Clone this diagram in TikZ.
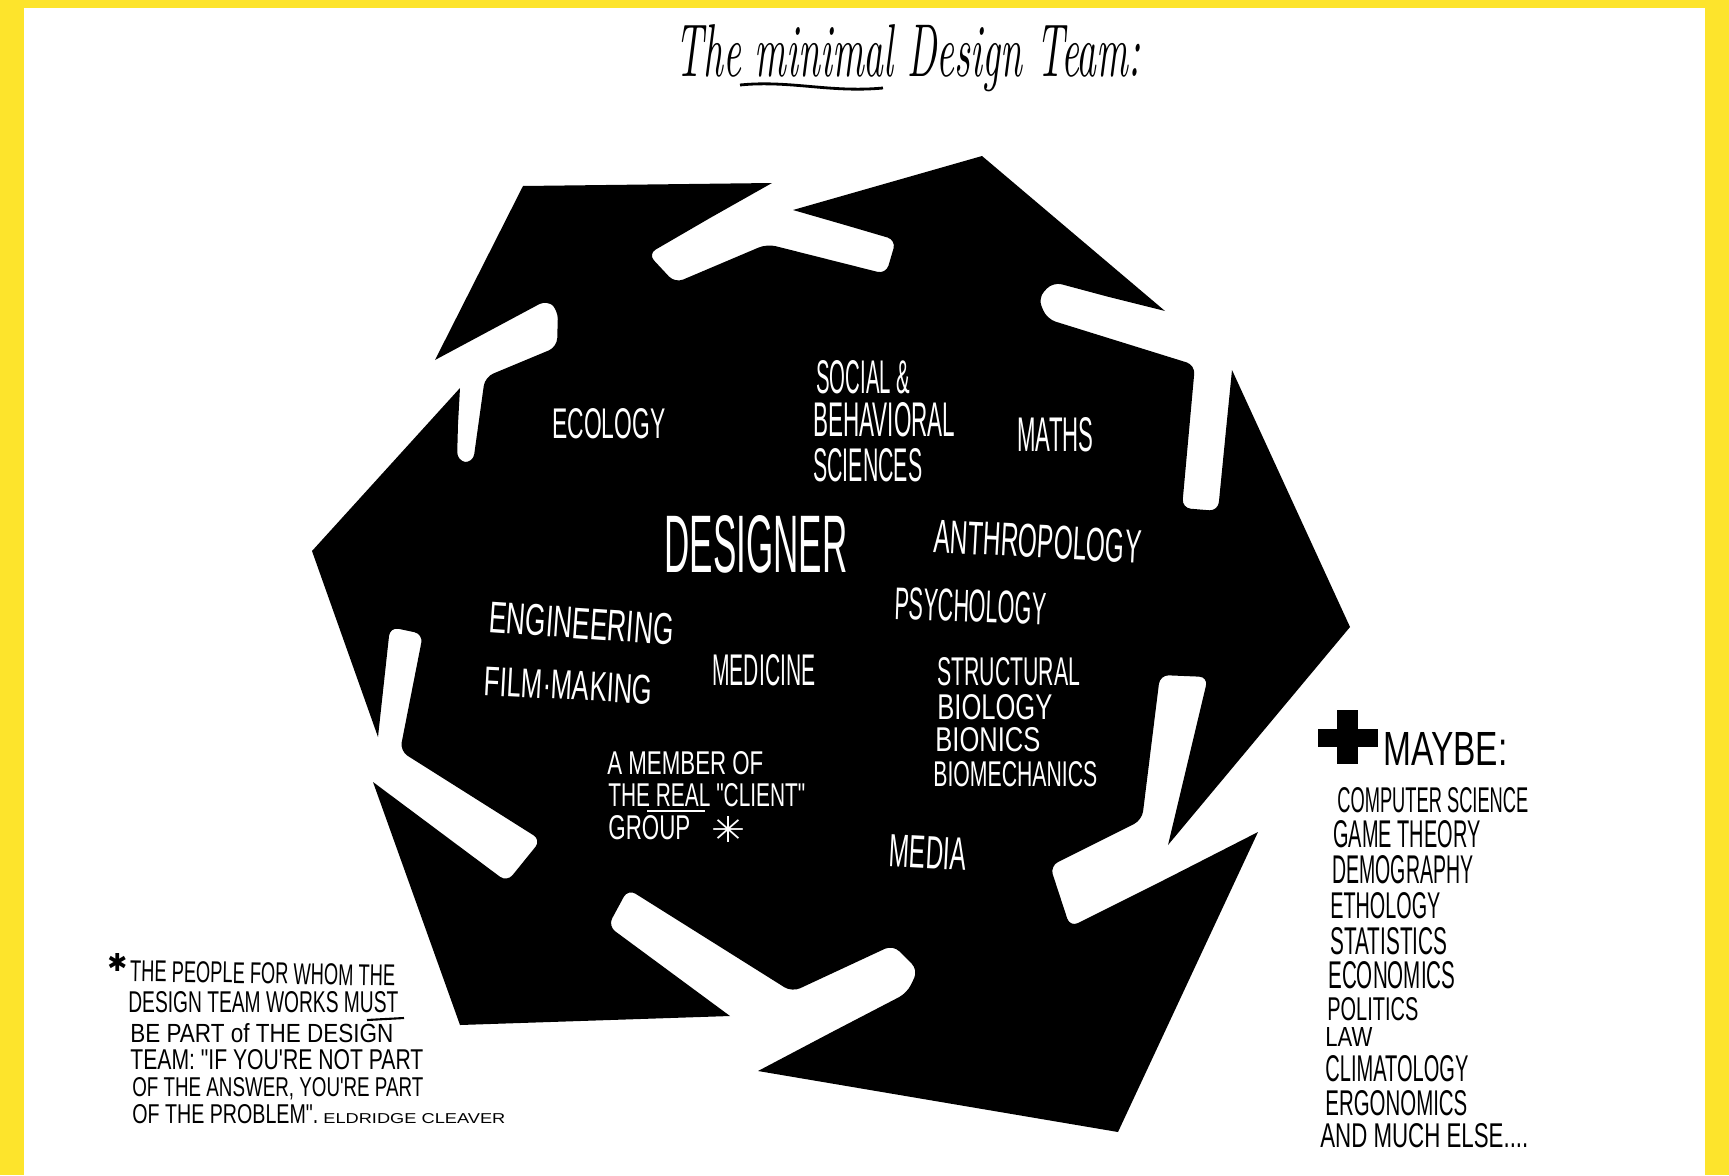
\documentclass[tikz,border=0pt]{standalone}
\usepackage{fontspec}
\usepackage{graphicx}
\newfontfamily\handfont{Liberation Sans}
\newfontfamily\symfont{DejaVu Sans}
\newlength\pxu
\setlength\pxu{0.2mm}
\newcommand\hl[3]{\resizebox{#1\pxu}{#2\pxu}{\handfont #3}}
\definecolor{frameyellow}{RGB}{253,228,44}
\begin{document}
\begin{tikzpicture}[x=0.2mm,y=-0.2mm,
  wlab/.style={text=white,inner sep=0pt,anchor=north west},
  blab/.style={text=black,inner sep=0pt,anchor=north west},
  rnd/.style={rounded corners=5pt}]
\useasboundingbox (0,0) rectangle (1729,1175);
\fill[frameyellow] (0,0) rectangle (1729,1175);
\fill[white] (24,8) rectangle (1705,1175);

% title
\node[inner sep=0pt,anchor=base west] (title) at (675,77)
  {\resizebox{465\pxu}{52\pxu}{\itshape The minimal Design Team:}};
\draw[line width=1.6pt] (740,85) .. controls (790,80) and (830,93) .. (883,88);

% black hexagon with slits
\fill[black] (523,186) -- (772,183) -- (710,218)
  [rnd] -- (648,254) -- (675,283) -- (767,244) -- (886,274) -- (896,240) -- (845,225) [sharp corners]
  -- (793,210) -- (982,156) -- (1165,311) -- (1109,297)
  [rnd] -- (1053,282) -- (1038,298) -- (1047,319) -- (1195,365) -- (1182,508) -- (1218,511) -- (1225,440) [sharp corners]
  -- (1232,370) -- (1350,627) -- (1168,845) -- (1188,761)
  [rnd] -- (1208,677) -- (1160,675) -- (1142,820) -- (1050,866) -- (1070,927) -- (1164,880) [sharp corners]
  -- (1258,832) -- (1118,1132) -- (758,1071) -- (832,1032)
  [rnd] -- (907,993) -- (918,970) -- (893,945) -- (792,992) -- (628,889) -- (608,926) -- (669,971) [sharp corners]
  -- (730,1016) -- (460,1025) -- (373,782) -- (440,832)
  [rnd] -- (507,882) -- (541,840) -- (400,751) -- (423,634) -- (390,627) -- (384,682) [sharp corners]
  -- (378,737) -- (312,551) -- (460,388) -- (458,424)
  [rnd] -- (457,461) -- (473,463) -- (485,377) -- (557,347) -- (558,310) -- (547,300) -- (491,330) [sharp corners]
  -- (435,360) -- cycle;

% labels inside
\node[wlab] (ecology) at (552,408) {\hl{113}{30}{ECOLOGY}};
\node[wlab] (social) at (816,360) {\hl{94}{33}{SOCIAL \&}};
\node[wlab] (behav) at (813,402) {\hl{142}{34}{BEHAVIORAL}};
\node[wlab] (sciences) at (813,448) {\hl{109}{33}{SCIENCES}};
\node[wlab] (maths) at (1017,417) {\hl{76}{34}{MATHS}};
\node[wlab] (designer) at (664,515) {\hl{183}{57}{DESIGNER}};
\node[wlab,rotate=-3] (anthro) at (935,519) {\hl{207}{33}{ANTHROPOLOGY}};
\node[wlab,rotate=-2] (psych) at (895,587) {\hl{152}{32}{PSYCHOLOGY}};
\node[wlab,rotate=-4] (engin) at (490,601) {\hl{185}{31}{ENGINEERING}};
\node[wlab,rotate=-3] (film) at (485,666) {\hl{168}{29}{FILM·MAKING}};
\node[wlab] (medicine) at (712,654) {\hl{103}{31}{MEDICINE}};
\node[wlab] (struct) at (937,657) {\hl{143}{28}{STRUCTURAL}};
\node[wlab] (biology) at (937,694) {\hl{115}{25}{BIOLOGY}};
\node[wlab] (bionics) at (935,727) {\hl{105}{24}{BIONICS}};
\node[wlab] (biomech) at (933,761) {\hl{164}{25}{BIOMECHANICS}};
\node[wlab,rotate=-3] (media) at (890,834) {\hl{77}{32}{MEDIA}};
\node[wlab] (member) at (607,751) {\hl{156}{23}{A MEMBER OF}};
\node[wlab] (real) at (608,783) {\hl{197}{23}{THE REAL "CLIENT"}};
\draw[white,line width=1.2pt] (647,811) -- (705,811);
\node[wlab] (group) at (608,815) {\hl{82}{24}{GROUP}};
\node[wlab] (gstar) at (711,816) {\resizebox{34\pxu}{26\pxu}{\symfont ✳}};

% maybe list
\fill[black] (1337,710) rectangle (1358,764);
\fill[black] (1318,729) rectangle (1378,747);
\node[blab] (maybe) at (1383,732) {\hl{124}{33}{MAYBE:}};
\node[blab] (l1) at (1337,787) {\hl{191}{25}{COMPUTER SCIENCE}};
\node[blab] (l2) at (1333,820) {\hl{147}{27}{GAME THEORY}};
\node[blab] (l3) at (1332,855) {\hl{141}{28}{DEMOGRAPHY}};
\node[blab] (l4) at (1330,892) {\hl{110}{26}{ETHOLOGY}};
\node[blab] (l5) at (1330,927) {\hl{117}{27}{STATISTICS}};
\node[blab] (l6) at (1328,961) {\hl{127}{27}{ECONOMICS}};
\node[blab] (l7) at (1327,997) {\hl{91}{23}{POLITICS}};
\node[blab] (l8) at (1325,1027) {\hl{47}{19}{LAW}};
\node[blab] (l9) at (1325,1055) {\hl{143}{26}{CLIMATOLOGY}};
\node[blab] (l10) at (1325,1090) {\hl{142}{25}{ERGONOMICS}};
\node[blab] (l11) at (1320,1123) {\hl{208}{24}{AND MUCH ELSE....}};

% footnote
\node[blab] (fstar) at (107,953) {\resizebox{20\pxu}{18\pxu}{\symfont ✱}};
\node[blab,rotate=-1] (f1) at (130,960) {\hl{265}{21}{THE PEOPLE FOR WHOM THE}};
\node[blab] (f2) at (128,991) {\hl{270}{21}{DESIGN TEAM WORKS MUST}};
\draw[line width=1.2pt] (367,1020) -- (404,1018);
\node[blab] (f3) at (130,1023) {\hl{263}{19}{BE PART of THE DESIGN}};
\node[blab] (f4) at (130,1049) {\hl{293}{20}{TEAM: "IF YOU'RE NOT PART}};
\node[blab] (f5) at (132,1077) {\hl{291}{19}{OF THE ANSWER, YOU'RE PART}};
\node[blab] (f6) at (132,1104) {\hl{186}{19}{OF THE PROBLEM".}};
\node[blab] (f7) at (323,1113) {\hl{182}{10}{ELDRIDGE CLEAVER}};
\end{tikzpicture}
\end{document}
